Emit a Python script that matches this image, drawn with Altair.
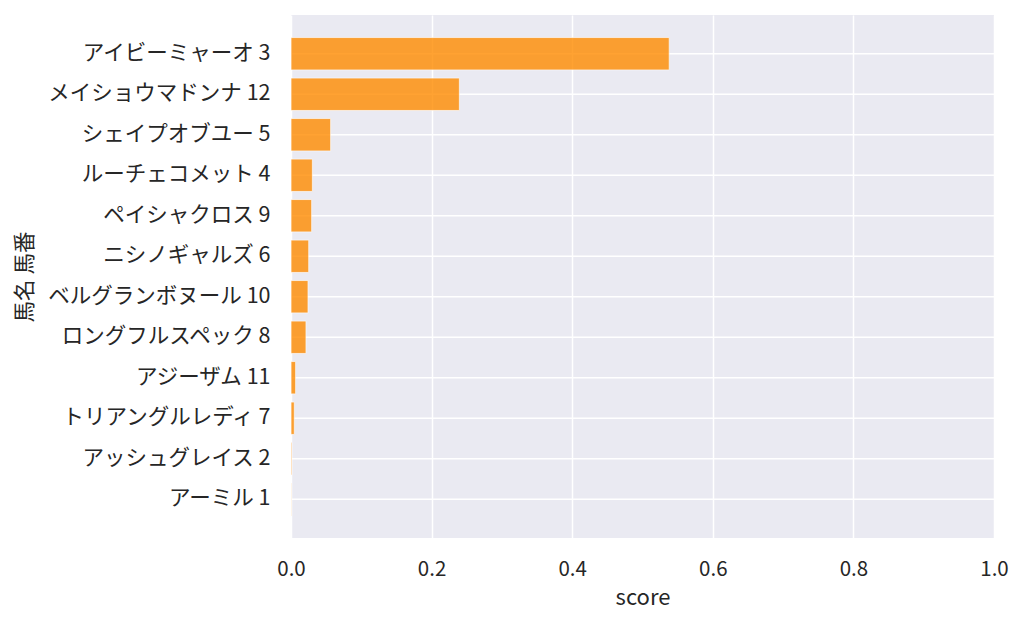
import altair as alt
import pandas as pd

names = [
    "アイビーミャーオ 3",
    "メイショウマドンナ 12",
    "シェイプオブユー 5",
    "ルーチェコメット 4",
    "ペイシャクロス 9",
    "ニシノギャルズ 6",
    "ベルグランボヌール 10",
    "ロングフルスペック 8",
    "アジーザム 11",
    "トリアングルレディ 7",
    "アッシュグレイス 2",
    "アーミル 1",
]
scores = [0.538, 0.2395, 0.0564, 0.0304, 0.0294, 0.0252, 0.0242, 0.0213,
          0.0066, 0.0047, 0.0012, 0.0006]

df = pd.DataFrame({"name": names, "score": scores})

W, H = 703, 523
FONT = "Noto Sans CJK JP"
TXT = "#262626"

yscale = alt.Scale(domain=names, paddingInner=0.2, paddingOuter=0.557)

grid = alt.Chart(df).mark_rule(color="white", strokeWidth=1.5).encode(
    y=alt.Y("name:N", sort=names, scale=yscale),
    x=alt.value(0),
    x2=alt.value(W),
)

bars = alt.Chart(df).mark_bar(
    color="#FF8C00", opacity=0.8, stroke="white", strokeWidth=1, strokeOpacity=0.7
).encode(
    x=alt.X(
        "score:Q",
        scale=alt.Scale(domain=[0, 1], nice=False),
        axis=alt.Axis(
            values=[0, 0.2, 0.4, 0.6, 0.8, 1.0],
            format=".1f",
            grid=True,
            gridColor="white",
            gridWidth=1.5,
            domain=False,
            ticks=False,
            labelFlush=False,
            labelPadding=21,
            labelFontSize=20.5,
            labelColor=TXT,
            labelFont=FONT,
            title="score",
            titleFont=FONT,
            titleFontSize=22,
            titleFontWeight="normal",
            titleColor=TXT,
            titlePadding=8,
        ),
    ),
    y=alt.Y(
        "name:N",
        sort=names,
        scale=yscale,
        axis=alt.Axis(
            grid=False,
            domain=False,
            ticks=False,
            labelPadding=21,
            labelFontSize=21.5,
            labelColor=TXT,
            labelFont=FONT,
            labelLimit=400,
            title="馬名 馬番",
            titleFont=FONT,
            titleFontSize=21.5,
            titleFontWeight="normal",
            titleColor=TXT,
            titleX=-266,
            titleY=H / 2,
            titleAngle=270,
            titleBaseline="middle",
            titleAlign="center",
        ),
    ),
)

chart = (
    alt.layer(grid, bars)
    .properties(
        width=W,
        height=H,
        padding={"left": 6, "top": 7, "right": 5, "bottom": 5},
        background="white",
    )
    .configure_view(fill="#EAEAF2", stroke=None)
)

chart.save("out.html", embed_options={"renderer": "svg", "actions": False})
